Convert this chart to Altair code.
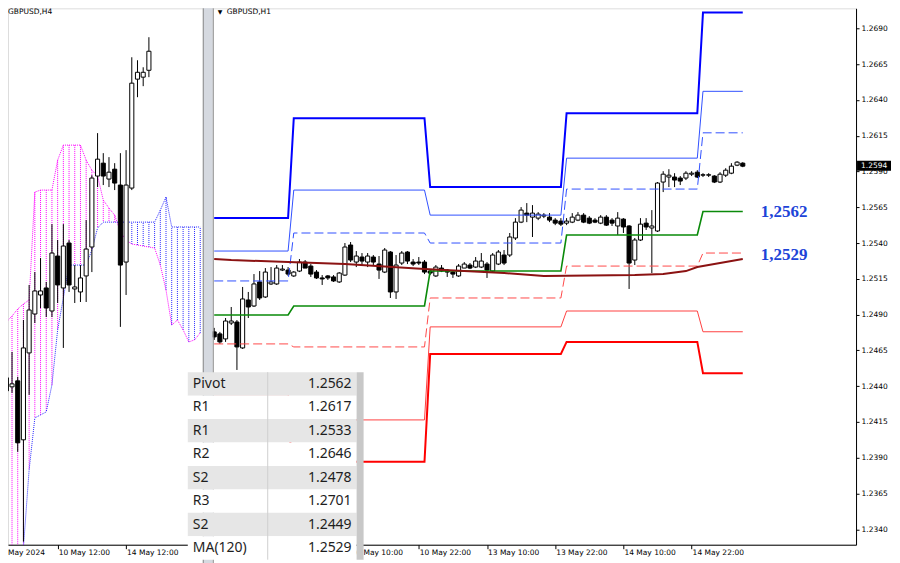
import altair as alt
import pandas as pd

# ---------------- values ----------------
# GBPUSD H1 (right panel); bar 0 = 10 May 00:00
h1_bar = list(range(-14, 80))
h1_open = [1.24779, 1.24765, 1.24730, 1.24841, 1.24848, 1.24667, 1.25002, 1.24960, 1.25128, 1.25023,
           1.25114, 1.25114, 1.25211, 1.25211, 1.25170, 1.25204, 1.25267, 1.25239, 1.25197, 1.25156,
           1.25170, 1.25163, 1.25128, 1.25176, 1.25386, 1.25267, 1.25302, 1.25267, 1.25302, 1.25253,
           1.25197, 1.25337, 1.25058, 1.25260, 1.25337, 1.25267, 1.25267, 1.25267, 1.25204, 1.25170,
           1.25225, 1.25211, 1.25197, 1.25170, 1.25225, 1.25246, 1.25232, 1.25232, 1.25253, 1.25204,
           1.25253, 1.25316, 1.25316, 1.25435, 1.25546, 1.25609, 1.25581, 1.25574, 1.25588, 1.25581,
           1.25560, 1.25553, 1.25539, 1.25546, 1.25560, 1.25595, 1.25574, 1.25560, 1.25539, 1.25581,
           1.25560, 1.25519, 1.25567, 1.25519, 1.25281, 1.25421, 1.25539, 1.25505, 1.25484, 1.25826,
           1.25861, 1.25861, 1.25854, 1.25854, 1.25881, 1.25895, 1.25874, 1.25874, 1.25868, 1.25826,
           1.25874, 1.25888, 1.25944, 1.25958]
h1_close = [1.24744, 1.24709, 1.24855, 1.24855, 1.24674, 1.25009, 1.24953, 1.25114, 1.25016, 1.25197,
            1.25128, 1.25225, 1.25218, 1.25183, 1.25197, 1.25267, 1.25225, 1.25183, 1.25156, 1.25149,
            1.25156, 1.25135, 1.25190, 1.25372, 1.25281, 1.25309, 1.25274, 1.25309, 1.25267, 1.25211,
            1.25351, 1.25058, 1.25246, 1.25330, 1.25274, 1.25253, 1.25260, 1.25197, 1.25190, 1.25232,
            1.25204, 1.25197, 1.25183, 1.25239, 1.25253, 1.25225, 1.25274, 1.25274, 1.25211, 1.25316,
            1.25337, 1.25260, 1.25442, 1.25546, 1.25630, 1.25595, 1.25609, 1.25602, 1.25595, 1.25560,
            1.25539, 1.25532, 1.25553, 1.25581, 1.25595, 1.25546, 1.25539, 1.25546, 1.25581, 1.25525,
            1.25539, 1.25574, 1.25512, 1.25260, 1.25421, 1.25532, 1.25512, 1.25519, 1.25819, 1.25881,
            1.25874, 1.25840, 1.25833, 1.25888, 1.25888, 1.25861, 1.25877, 1.25877, 1.25826, 1.25881,
            1.25909, 1.25937, 1.25965, 1.25937]
h1_high = [1.24807, 1.24779, 1.24876, 1.24953, 1.24862, 1.25093, 1.25058, 1.25183, 1.25204, 1.25225,
           1.25232, 1.25246, 1.25246, 1.25232, 1.25204, 1.25288, 1.25281, 1.25253, 1.25211, 1.25176,
           1.25176, 1.25176, 1.25197, 1.25400, 1.25407, 1.25344, 1.25330, 1.25330, 1.25316, 1.25309,
           1.25365, 1.25344, 1.25316, 1.25344, 1.25344, 1.25288, 1.25302, 1.25281, 1.25211, 1.25246,
           1.25246, 1.25218, 1.25211, 1.25253, 1.25267, 1.25260, 1.25302, 1.25330, 1.25267, 1.25330,
           1.25351, 1.25351, 1.25470, 1.25574, 1.25651, 1.25679, 1.25665, 1.25616, 1.25609, 1.25609,
           1.25574, 1.25574, 1.25574, 1.25609, 1.25616, 1.25609, 1.25588, 1.25574, 1.25595, 1.25595,
           1.25574, 1.25616, 1.25574, 1.25525, 1.25435, 1.25574, 1.25574, 1.25630, 1.25826, 1.25902,
           1.25916, 1.25888, 1.25868, 1.25902, 1.25902, 1.25909, 1.25888, 1.25888, 1.25874, 1.25895,
           1.25923, 1.25958, 1.25972, 1.25965]
h1_low = [1.24723, 1.24695, 1.24709, 1.24827, 1.24513, 1.24660, 1.24876, 1.24953, 1.25002, 1.25016,
          1.25107, 1.25107, 1.25204, 1.25170, 1.25163, 1.25197, 1.25225, 1.25163, 1.25149, 1.25107,
          1.25142, 1.25128, 1.25121, 1.25170, 1.25267, 1.25232, 1.25246, 1.25232, 1.25246, 1.25149,
          1.25190, 1.25016, 1.25009, 1.25246, 1.25253, 1.25239, 1.25246, 1.25183, 1.25176, 1.25163,
          1.25197, 1.25163, 1.25156, 1.25163, 1.25225, 1.25218, 1.25225, 1.25225, 1.25156, 1.25197,
          1.25246, 1.25246, 1.25302, 1.25421, 1.25539, 1.25546, 1.25442, 1.25560, 1.25574, 1.25546,
          1.25525, 1.25519, 1.25525, 1.25539, 1.25553, 1.25539, 1.25532, 1.25539, 1.25532, 1.25519,
          1.25519, 1.25456, 1.25470, 1.25079, 1.25246, 1.25414, 1.25491, 1.25190, 1.25477, 1.25756,
          1.25791, 1.25791, 1.25805, 1.25840, 1.25868, 1.25854, 1.25861, 1.25861, 1.25819, 1.25819,
          1.25861, 1.25881, 1.25937, 1.25930]

# daily pivot levels: 9, 10, 13, 14, 15 May
day_first_bar = [-14, 0, 24, 48, 72]
day_last_bar = [-1, 23, 47, 71, 79]
lvl_R3 = [1.25574, 1.26272, 1.25791, 1.26307, 1.2701]
lvl_R2 = [1.25344, 1.25770, 1.25595, 1.25993, 1.2646]
lvl_R1 = [1.25135, 1.25470, 1.25400, 1.25777, 1.2617]
lvl_P = [1.24897, 1.24960, 1.25204, 1.25456, 1.2562]
lvl_S1 = [1.24695, 1.24674, 1.25016, 1.25239, 1.2533]
lvl_S2 = [1.24340, 1.24164, 1.24814, 1.24925, 1.2478]
lvl_S3 = [1.24095, 1.23872, 1.24625, 1.24709, 1.2449]

# MA(120)
ma_bar = [-14, -11, -1, 9, 23, 37, 44, 60, 65, 69, 71, 75, 79]
ma_value = [1.25288, 1.25281, 1.25267, 1.25253, 1.25218, 1.25190, 1.25170, 1.25176,
            1.25183, 1.25204, 1.25232, 1.25260, 1.25288]

# GBPUSD H4 (left panel), read against the same vertical scale
h4_bar = list(range(27))
h4_open = [1.24569, 1.24458, 1.24395, 1.24437, 1.24025, 1.24632, 1.24904, 1.25037, 1.25086, 1.24925,
           1.25309, 1.25086, 1.25400, 1.25079, 1.25058, 1.25170, 1.25372, 1.25868, 1.25958, 1.25847,
           1.25916, 1.25805, 1.25267, 1.25784, 1.26545, 1.26559, 1.26607]
h4_close = [1.24479, 1.24367, 1.24416, 1.24004, 1.24667, 1.24932, 1.25065, 1.25065, 1.24946, 1.25330,
            1.25107, 1.25379, 1.25107, 1.25093, 1.25156, 1.25358, 1.25854, 1.25986, 1.25868, 1.25895,
            1.25819, 1.25246, 1.25805, 1.26517, 1.26593, 1.26593, 1.26740]
h4_high = [1.24632, 1.24562, 1.24639, 1.24465, 1.24862, 1.25107, 1.25197, 1.25295, 1.25128, 1.25532,
           1.25421, 1.25532, 1.25421, 1.25246, 1.25246, 1.25560, 1.25874, 1.26168, 1.26028, 1.26000,
           1.25958, 1.26028, 1.26049, 1.26698, 1.26677, 1.26628, 1.26838]
h4_low = [1.24444, 1.24304, 1.24353, 1.23941, 1.23313, 1.24339, 1.24841, 1.24946, 1.24883, 1.24883,
          1.24981, 1.24667, 1.25058, 1.24981, 1.24988, 1.24988, 1.25197, 1.25791, 1.25805, 1.25791,
          1.25770, 1.24814, 1.25037, 1.25770, 1.26419, 1.26496, 1.26559]

# Ichimoku cloud (left panel)
kumo_bar = list(range(36))
span_a = [1.24807, 1.24848, 1.24890, 1.24939, 1.24974, 1.25002, 1.25756, 1.25770, 1.25770, 1.25770,
          1.25979, 1.26084, 1.26084, 1.26084, 1.26084, 1.25979, 1.25909, 1.25868, 1.25700, 1.25644,
          1.25595, 1.25477, 1.25421, 1.25393, 1.25386, 1.25379, 1.25372, 1.25365, 1.25246, 1.25072,
          1.24827, 1.24862, 1.24793, 1.24709, 1.24723, 1.24772]
span_b = [1.22768, 1.22908, 1.23013, 1.23117, 1.23271, 1.23815, 1.24178, 1.24199, 1.24220, 1.24409,
          1.24793, 1.25016, 1.25246, 1.25246, 1.25246, 1.25246, 1.25351, 1.25505, 1.25546, 1.25546,
          1.25546, 1.25546, 1.25546, 1.25546, 1.25546, 1.25546, 1.25546, 1.25546, 1.25630, 1.25721,
          1.25512, 1.25512, 1.25512, 1.25512, 1.25512, 1.25512]

price_ticks = [1.2340, 1.2365, 1.2390, 1.2415, 1.2440, 1.2465, 1.2490, 1.2515,
               1.2540, 1.2565, 1.2590, 1.2615, 1.2640, 1.2665, 1.2690]
h1_time_bar = [10, 22, 34, 46, 58, 70]
h1_time_text = ["10 May 10:00", "10 May 22:00", "13 May 10:00",
                "13 May 22:00", "14 May 10:00", "14 May 22:00"]
h4_time_bar = [10, 22]
h4_time_text = ["10 May 12:00", "14 May 12:00"]

table_name = ["Pivot", "R1", "R1", "R2", "S2", "R3", "S2", "MA(120)"]
table_value = ["1.2562", "1.2617", "1.2533", "1.2646", "1.2478", "1.2701", "1.2449", "1.2529"]

last_price = 1.2594
tag_value = [1.2562, 1.2529]
tag_text = ["1,2562", "1,2529"]

# ---------------- layout ----------------
W, H = 849, 537
X_DOM = [-50.28, 98.93]
Y_DOM = [1.23292, 1.27040]
H4_U0, H4_DU = -51.58, 1.0035
HALF = 0.36
FONT = "DejaVu Sans"
MAGENTA = "#ff00ff"
BLUE_K = "#2a2aff"

xs = alt.Scale(domain=X_DOM, nice=False, zero=False)
ys = alt.Scale(domain=Y_DOM, nice=False, zero=False)

h1_df = pd.DataFrame({"u": h1_bar, "o": h1_open, "c": h1_close, "h": h1_high, "l": h1_low})
h4_df = pd.DataFrame({"u": [H4_U0 + H4_DU * j for j in h4_bar],
                      "o": h4_open, "c": h4_close, "h": h4_high, "l": h4_low})
cd = pd.concat([h4_df, h1_df], ignore_index=True)
cd["x1"] = cd["u"] - HALF
cd["x2"] = cd["u"] + HALF
cd["fill"] = ["white" if c >= o else "black" for o, c in zip(cd["o"], cd["c"])]

kumo = pd.DataFrame({"u": [H4_U0 + H4_DU * j for j in kumo_bar], "a": span_a, "b": span_b})
kumo["col"] = [MAGENTA if a >= b else BLUE_K for a, b in zip(kumo["a"], kumo["b"])]

tick_u = [H4_U0 + H4_DU * j for j in h4_time_bar] + [-2] + h1_time_bar
time_df = pd.DataFrame({"u": [H4_U0 + H4_DU * j for j in h4_time_bar] + h1_time_bar,
                        "t": h4_time_text + h1_time_text})

x_axis = alt.Axis(values=tick_u, labels=False, title=None, grid=False, domainColor="black",
                  tickColor="black", tickSize=4)
y_axis = alt.Axis(orient="right", values=price_ticks, format=".4f", title=None, grid=False,
                  domainColor="black", tickColor="black", tickSize=3, labelPadding=2,
                  labelFont=FONT, labelFontSize=7.5, labelColor="black")


def X(f):
    return alt.X(f, type="quantitative", scale=xs, axis=x_axis)


def Y(f):
    return alt.Y(f, type="quantitative", scale=ys, axis=y_axis)


layers = []
# cloud
layers.append(alt.Chart(kumo).mark_rule(strokeDash=[1, 1], strokeWidth=1, clip=True).encode(
    x=X("u"), y=Y("a"), y2="b", color=alt.Color("col:N", scale=None)))
layers.append(alt.Chart(kumo).mark_line(color=MAGENTA, strokeDash=[1, 1], strokeWidth=1, clip=True)
              .encode(x=X("u"), y=Y("a")))
layers.append(alt.Chart(kumo).mark_line(color=BLUE_K, strokeDash=[1, 1], strokeWidth=1, clip=True)
              .encode(x=X("u"), y=Y("b")))
# candles
layers.append(alt.Chart(cd).mark_rule(color="black", strokeWidth=1).encode(
    x=X("u"), y=Y("l"), y2="h"))
layers.append(alt.Chart(cd).mark_rect(stroke="black", strokeWidth=1).encode(
    x=X("x1"), x2="x2", y=Y("o"), y2="c", fill=alt.Fill("fill:N", scale=None)))

# pivot levels
styles = [
    (lvl_R3, "#0000ff", 2, None),
    (lvl_R2, "#3050ff", 1, None),
    (lvl_R1, "#3050ff", 1, [9, 4]),
    (lvl_P, "#0a8a0a", 1.6, None),
    (lvl_S1, "#ff4a4a", 1, [9, 4]),
    (lvl_S2, "#ff4040", 1, None),
    (lvl_S3, "#ff0000", 2, None),
]
for vals, col, sw, dash in styles:
    us, vs = [], []
    for d in range(len(vals)):
        us += [day_first_bar[d], day_last_bar[d]]
        vs += [vals[d], vals[d]]
    df = pd.DataFrame({"u": us, "v": vs})
    kw = dict(color=col, strokeWidth=sw)
    if dash:
        kw["strokeDash"] = dash
    layers.append(alt.Chart(df).mark_line(**kw).encode(x=X("u"), y=Y("v")))

ma_df = pd.DataFrame({"u": ma_bar, "v": ma_value})
layers.append(alt.Chart(ma_df).mark_line(color="#8b1212", strokeWidth=2).encode(x=X("u"), y=Y("v")))

# separator between the two windows
one = pd.DataFrame({"k": [0]})
layers.append(alt.Chart(one).mark_rect(fill="#d5d9e0").encode(
    x=alt.value(195), x2=alt.value(205), y=alt.value(0), y2=alt.value(H + 20)))
for xv in (195.5, 205.5):
    layers.append(alt.Chart(one).mark_rule(color="#8a8a8a", strokeWidth=1).encode(
        x=alt.value(xv), y=alt.value(0), y2=alt.value(H + 20)))

# blue value labels
tag_df = pd.DataFrame({"v": tag_value, "t": tag_text})
layers.append(alt.Chart(tag_df.iloc[[0]]).mark_text(
    font="Liberation Serif", fontWeight="bold", fontSize=17, color="#1d44d8", align="center",
    baseline="middle").encode(x=alt.value(777), y=Y("v"), text="t:N"))
layers.append(alt.Chart(tag_df.iloc[[1]]).mark_text(
    font="Liberation Serif", fontWeight="bold", fontSize=17, color="#1d44d8", align="center",
    baseline="middle", dy=-4).encode(x=alt.value(777), y=Y("v"), text="t:N"))

# current price tag
lp = pd.DataFrame({"p": [last_price]})
layers.append(alt.Chart(lp).transform_calculate(hi="datum.p + 0.00035", lo="datum.p - 0.00035")
              .mark_rect(fill="black").encode(x=alt.value(850), x2=alt.value(884),
                                                 y=Y("hi"), y2="lo"))
layers.append(alt.Chart(lp).mark_text(font=FONT, fontSize=7.5, color="white", align="left",
                                      baseline="middle").encode(
    x=alt.value(854), y=Y("p"), text=alt.Text("p:Q", format=".4f")))

# time labels
layers.append(alt.Chart(time_df).mark_text(font=FONT, fontSize=7.5, color="black", align="left",
                                           baseline="middle", dx=1).encode(
    x=X("u"), y=alt.value(545), text="t:N"))
layers.append(alt.Chart(one).mark_text(font=FONT, fontSize=7.5, color="black", align="left",
                                       baseline="middle", text="May 2024").encode(
    x=alt.value(0), y=alt.value(545)))

# window headers
layers.append(alt.Chart(one).mark_text(font=FONT, fontSize=7.5, color="black", align="left",
                                       baseline="middle", text="GBPUSD,H4").encode(
    x=alt.value(0), y=alt.value(4)))
layers.append(alt.Chart(one).mark_text(font=FONT, fontSize=6, color="black", align="left",
                                       baseline="middle", text="\u25bc").encode(
    x=alt.value(210), y=alt.value(4)))
layers.append(alt.Chart(one).mark_text(font=FONT, fontSize=7.5, color="black", align="left",
                                       baseline="middle", text="GBPUSD,H1").encode(
    x=alt.value(219), y=alt.value(4)))

price = alt.layer(*layers)

# data window table
tbl = pd.DataFrame({"row": list(range(len(table_name))), "name": table_name, "value": table_value})
tbl["bg"] = ["#e6e6e6" if r % 2 == 0 else "#ffffff" for r in tbl["row"]]
ts = alt.Scale(domain=list(range(len(table_name))), range=[364.3, 552.0], paddingInner=0, paddingOuter=0)
TY = alt.Y("row:O", scale=ts, axis=None)
t_layers = [
    alt.Chart(tbl).mark_rect().encode(x=alt.value(180), x2=alt.value(349), y=TY,
                                      fill=alt.Fill("bg:N", scale=None)),
    alt.Chart(tbl).mark_text(font="Noto Sans", fontSize=14, color="#1e1e1e", align="left",
                             baseline="middle").encode(x=alt.value(185), y=TY, text="name:N"),
    alt.Chart(tbl).mark_text(font="Noto Sans", fontSize=14, color="#1e1e1e", align="right",
                             baseline="middle").encode(x=alt.value(344), y=TY, text="value:N"),
    alt.Chart(one).mark_rule(color="#cfcfcf", strokeWidth=1).encode(
        x=alt.value(260), y=alt.value(364.3), y2=alt.value(552)),
    alt.Chart(one).mark_rect(fill="#c8c8c8").encode(
        x=alt.value(349), x2=alt.value(356), y=alt.value(364.3), y2=alt.value(552)),
]
table = alt.layer(*t_layers)

chart = (alt.layer(price, table)
         .resolve_scale(y="independent")
         .properties(width=W, height=H, autosize=alt.AutoSizeParams(type="none"),
                     padding={"left": 0, "top": 0, "right": 36, "bottom": 18})
         .configure_view(stroke=None)
         .configure(background="white"))

chart.save("out.html", embed_options={"renderer": "svg", "actions": False})
